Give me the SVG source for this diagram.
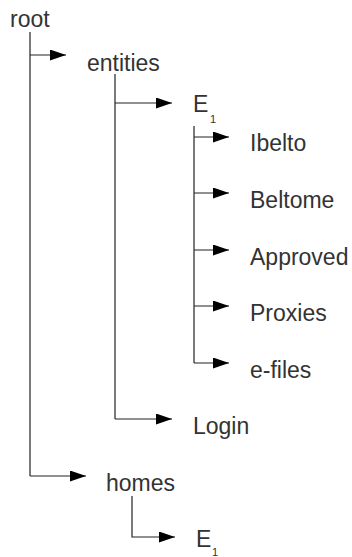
<svg xmlns="http://www.w3.org/2000/svg" width="352" height="557" viewBox="0 0 352 557">
<style>
text{font-family:"Liberation Sans",Arial,sans-serif;font-size:23px;fill:#333}
.sub{font-size:11px}
.c{stroke:#222;stroke-width:1.2;fill:none}
</style>
<defs>
<marker id="ah" markerUnits="userSpaceOnUse" markerWidth="17" markerHeight="11" refX="16" refY="5.5" orient="auto">
<path d="M0,0 L16,5.5 L0,11 Z" fill="#000"/>
</marker>
</defs>
<rect width="352" height="557" fill="#fff"/>
<g id="connectors">
<path class="c" d="M30,32 V476"/>
<path class="c" d="M30,55 H66" marker-end="url(#ah)"/>
<path class="c" d="M30,476 H86" marker-end="url(#ah)"/>
<path class="c" d="M115,74 V419"/>
<path class="c" d="M115,103 H172" marker-end="url(#ah)"/>
<path class="c" d="M115,419 H172" marker-end="url(#ah)"/>
<path class="c" d="M194,126 V363"/>
<path class="c" d="M194,137 H229" marker-end="url(#ah)"/>
<path class="c" d="M194,193 H229" marker-end="url(#ah)"/>
<path class="c" d="M194,250 H229" marker-end="url(#ah)"/>
<path class="c" d="M194,306 H229" marker-end="url(#ah)"/>
<path class="c" d="M194,363 H229" marker-end="url(#ah)"/>
<path class="c" d="M132,496 V537 H175" marker-end="url(#ah)"/>
</g>
<g id="root"><text x="10" y="27">root</text></g>
<g id="entities"><text x="87" y="71">entities</text></g>
<g id="e1"><text x="193" y="112">E</text><text class="sub" x="210" y="123">1</text></g>
<g id="ibelto"><text x="250" y="151">Ibelto</text></g>
<g id="beltome"><text x="250" y="208">Beltome</text></g>
<g id="approved"><text x="250" y="265">Approved</text></g>
<g id="proxies"><text x="250" y="321">Proxies</text></g>
<g id="efiles"><text x="250" y="378">e-files</text></g>
<g id="login"><text x="193" y="434">Login</text></g>
<g id="homes"><text x="106" y="491">homes</text></g>
<g id="e1b"><text x="196" y="547">E</text><text class="sub" x="212" y="556">1</text></g>
</svg>
